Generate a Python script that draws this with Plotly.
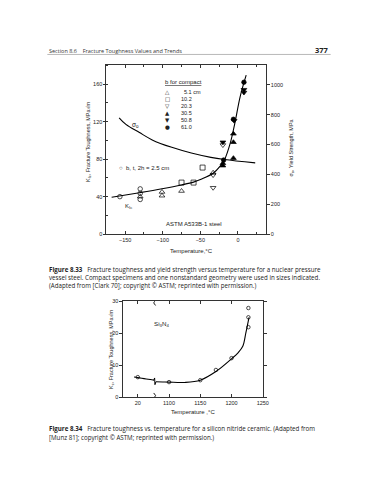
import plotly.graph_objects as go

W, H = 368, 480

# ---------------- Figure 8.33 data ----------------
# yield strength curve (right axis, MPa)
sig_T = [-158, -149, -131, -114, -88, -62, -36, -18, 23]
sig_V = [779, 735, 680, 631, 581, 543, 514, 500, 477]
# K_Ic fit curve (left axis)
kic_T = [-168, -131, -101, -75, -59, -49, -33, -23, -18, -10, -4, 3, 11]
kic_V = [39.3, 44.2, 48.4, 52.5, 55.5, 58.5, 64.9, 73, 79, 97.5, 118.6, 146.7, 169.5]

pts_2p5_T = [-157, -130, -130, -130]
pts_2p5_K = [40, 48.3, 43.5, 37]
pts_51_T = [-130, -101, -101, -75, -33]
pts_51_K = [40, 41, 45, 46, 65.5]
pts_102_T = [-75, -59, -47]
pts_102_K = [55, 55, 71]
pts_203_T = [-33, -33, -20]
pts_203_K = [49.5, 63, 95]
pts_305_T = [-20, -20, -6, -6, -6]
pts_305_K = [73, 75.5, 81, 98, 107]
pts_508_T = [-20, -5, 8, 8]
pts_508_K = [98, 121, 154, 151]
pts_610_T = [-19, -6, 8]
pts_610_K = [79, 122.5, 162]

legend_labels = ["5.1 cm", "10.2", "20.3", "30.5", "50.8", "61.0"]
legend_glyphs = ["△", "□", "▽", "▲", "▼", "●"]

x1_ticks = [-150, -100, -50, 0]
y1_ticks = [0, 40, 80, 120, 160]
y2_ticks = [0, 200, 400, 600, 800, 1000]

# ---------------- Figure 8.34 data ----------------
si_T = [20, 1100, 1150, 1175, 1200, 1227, 1227, 1227]
si_K = [6.25, 4.7, 5.3, 8.5, 12.2, 21.9, 25.0, 27.9]
# fit curve, low-temperature segment (°C near room temp) and high segment
cur_lo_T = [14, 20, 30, 40, 46]
cur_lo_K = [6.3, 6.1, 5.8, 5.5, 5.3]
cur_hi_T = [1079, 1090, 1100, 1125, 1150, 1175, 1200, 1210, 1218, 1223, 1228]
cur_hi_K = [4.8, 4.75, 4.7, 4.6, 5.3, 8.0, 12.0, 13.8, 15.9, 20.2, 25.0]

x3_ticks = [20, 1100, 1150, 1200, 1250]
y3_ticks = [0, 10, 20, 30]


def disp(t):
    # broken axis: room-temperature block shown just left of the break
    return t + 1030 if t < 1000 else t


FONT = "Liberation Sans"
CAP_FONT = "Open Sans"
TXT = "#222"

fig = go.Figure()

# curves fig 1
fig.add_trace(go.Scatter(x=sig_T, y=sig_V, mode="lines", line=dict(color="black", width=1.1, shape="spline"),
                         xaxis="x", yaxis="y2", showlegend=False))
fig.add_trace(go.Scatter(x=kic_T, y=kic_V, mode="lines", line=dict(color="black", width=1.1, shape="spline"),
                         xaxis="x", yaxis="y", showlegend=False))


def pts(xs, ys, sym, size=5):
    fig.add_trace(go.Scatter(x=xs, y=ys, mode="markers",
                             marker=dict(symbol=sym, size=size, color="black", line=dict(color="black", width=0.7)),
                             xaxis="x", yaxis="y", showlegend=False))


pts(pts_2p5_T, pts_2p5_K, "circle-open", 4.5)
pts(pts_51_T, pts_51_K, "triangle-up-open")
pts(pts_102_T, pts_102_K, "square-open")
pts(pts_203_T, pts_203_K, "triangle-down-open")
pts(pts_305_T, pts_305_K, "triangle-up")
pts(pts_508_T, pts_508_K, "triangle-down")
pts(pts_610_T, pts_610_K, "circle", 4.5)

# fig 2
fig.add_trace(go.Scatter(x=[disp(t) for t in cur_lo_T], y=cur_lo_K, mode="lines",
                         line=dict(color="black", width=1.1, shape="spline"), xaxis="x3", yaxis="y3", showlegend=False))
fig.add_trace(go.Scatter(x=[disp(t) for t in cur_hi_T], y=cur_hi_K, mode="lines",
                         line=dict(color="black", width=1.1, shape="spline"), xaxis="x3", yaxis="y3", showlegend=False))
fig.add_trace(go.Scatter(x=[disp(t) for t in si_T], y=si_K, mode="markers",
                         marker=dict(symbol="circle-open", size=3.5, color="black", line=dict(width=0.7)),
                         xaxis="x3", yaxis="y3", showlegend=False))


def px(x):
    return x / W


def py(y):
    return 1 - y / H


ax_common = dict(showgrid=False, zeroline=False, showline=True, linecolor="#333", linewidth=1,
                 tickfont=dict(family=FONT, size=5.5, color=TXT), tickcolor="#333", tickwidth=0.8)

fig.update_layout(
    width=W, height=H, margin=dict(l=0, r=0, t=0, b=0),
    paper_bgcolor="white", plot_bgcolor="white",
    xaxis=dict(domain=[px(100), px(262)], range=[-175, 37], anchor="y", tickvals=x1_ticks,
               ticks="inside", ticklen=3, mirror="ticks",
               minor=dict(dtick=25, ticks="inside", ticklen=2, tickcolor="#333"), **ax_common),
    yaxis=dict(domain=[py(226), py(55)], range=[0, 180], anchor="x", tickvals=y1_ticks,
               ticks="outside", ticklen=2, mirror=True,
               minor=dict(dtick=20, ticks="inside", ticklen=2, tickcolor="#333"), **ax_common),
    yaxis2=dict(overlaying="y", side="right", anchor="x", range=[0, 1130], tickvals=y2_ticks,
                ticks="outside", ticklen=3, **ax_common),
    xaxis3=dict(domain=[px(117.3), px(259)], range=[1027, 1250], anchor="y3",
                tickvals=[disp(t) for t in x3_ticks], ticktext=[str(t) for t in x3_ticks],
                ticks="inside", ticklen=3, mirror="ticks", **ax_common),
    yaxis3=dict(domain=[py(391), py(294)], range=[0, 30], anchor="x3", tickvals=y3_ticks,
                ticks="outside", ticklen=3, mirror="ticks", **ax_common),
)

ann = []


def text(x, y, s, size=6, xanchor="left", angle=0, font=FONT, color=TXT):
    ann.append(dict(x=px(x), y=py(y), xref="paper", yref="paper", text=s, showarrow=False,
                    xanchor=xanchor, yanchor="middle", textangle=angle,
                    font=dict(family=font, size=size, color=color)))


NB = "\u00a0"
# header
text(40, 40, "Section 8.6" + NB * 4 + "Fracture Toughness Values and Trends", 5.5, font=CAP_FONT, color="#333")
text(328, 39, "<b>377</b>", 7.5, xanchor="right", font=CAP_FONT, color="#222")

# fig 1 texts
text(82, 132, "K<sub>Ic</sub>, Fracture Toughness, MPa√m", 5.5, xanchor="center", angle=-90)
text(288, 138, "σ<sub>o</sub>, Yield Strength, MPa", 5.5, xanchor="center", angle=-90)
text(187, 243, "Temperature,°C", 6, xanchor="center")
text(158, 72, "<u>b for compact</u>", 6)
for i, (g, lab) in enumerate(zip(legend_glyphs, legend_labels)):
    yy = 82 + i * 7
    text(162, yy, g, 5.5, xanchor="center", font="DejaVu Sans")
    text(177 if i == 0 else 174, yy, lab, 5.5)
text(124, 115, "σ<sub>o</sub>", 6.5)
text(111, 159, "○" + NB * 2 + "b, t, 2h = 2.5 cm", 6)
text(117, 198, "K<sub>Ic</sub>", 6)
text(189, 216, "ASTM A533B-1 steel", 6, xanchor="center")

# captions
text(40, 262, "<b>Figure 8.33</b>" + NB * 3 + "Fracture toughness and yield strength versus temperature for a nuclear pressure",
     6.2, font=CAP_FONT)
text(40, 270, "vessel steel. Compact specimens and one nonstandard geometry were used in sizes indicated.",
     6.2, font=CAP_FONT)
text(40, 278, "(Adapted from [Clark 70]; copyright © ASTM; reprinted with permission.)", 6.2, font=CAP_FONT)

# fig 2 texts
text(105, 342, "K<sub>c</sub>, Fracture Toughness, MPa√m", 5.5, xanchor="center", angle=-90)
text(188, 406, "Temperature ,°C", 6, xanchor="center")
text(146, 317, "Si<sub>3</sub>N<sub>4</sub>", 6.2)

text(40, 423, "<b>Figure 8.34</b>" + NB * 3 + "Fracture toughness vs. temperature for a silicon nitride ceramic. (Adapted from",
     6.2, font=CAP_FONT)
text(40, 431.5, "[Munz 81]; copyright © ASTM; reprinted with permission.)", 6.2, font=CAP_FONT)

fig.update_layout(annotations=ann)

# header rule
shapes = [dict(type="line", xref="paper", yref="paper", x0=px(40), x1=px(328), y0=py(44), y1=py(44),
               line=dict(color="#888", width=0.6))]
# axis break marks (fig 2)
for yb in (30, 0):
    shapes.append(dict(type="path", xref="x3", yref="y3",
                       path=f"M 1075.5 {yb + 1.3} L 1078.5 {yb + 0.5} L 1075.5 {yb - 0.5} L 1078.5 {yb - 1.3}",
                       line=dict(color="black", width=0.9)))
shapes.append(dict(type="path", xref="x3", yref="y3",
                   path="M 1075.5 5.3 L 1077 6.0 L 1077.5 3.9 L 1079 4.8",
                   line=dict(color="black", width=1)))
fig.update_layout(shapes=shapes)

fig.write_html("out.html")
